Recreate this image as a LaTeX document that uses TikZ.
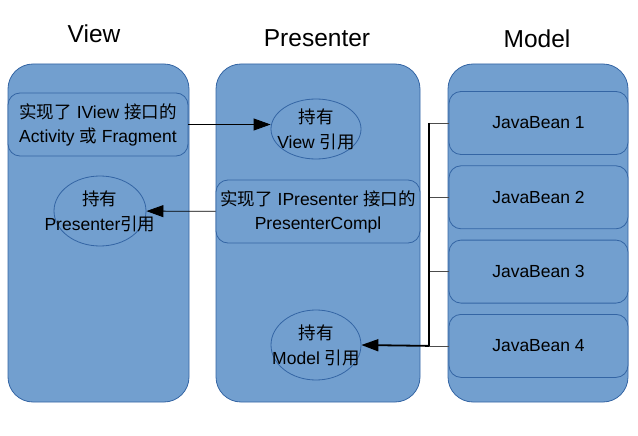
\documentclass[tikz,border=0pt]{standalone}
\usepackage{fontspec}
\setmainfont{Liberation Sans}
\newfontfamily\cjk{Noto Sans CJK SC}
\newcommand{\zh}[1]{{\cjk #1}}
\usetikzlibrary{arrows.meta,positioning,shapes.geometric}
\definecolor{mvpfill}{HTML}{729FCF}
\definecolor{mvpline}{HTML}{3465A4}
\tikzstyle{column}=[draw=mvpline,fill=mvpfill,rounded corners=25pt,minimum height=338pt,inner sep=0pt]
\tikzstyle{impl}=[draw=mvpline,fill=mvpfill,rounded corners=12pt,minimum height=63pt,inner sep=0pt,align=center,font=\fontsize{17.5}{24}\selectfont]
\tikzstyle{holder}=[draw=mvpline,fill=mvpfill,ellipse,inner sep=0pt]
\tikzstyle{holdtext}=[align=center,font=\fontsize{17.5}{25}\selectfont]
\tikzstyle{title}=[font=\fontsize{24.5}{28}\selectfont]
\tikzstyle{every edge}=[draw,>={Triangle[length=17pt,width=12pt]}]

\begin{document}
\begin{tikzpicture}[x=1pt,y=-1pt,line width=0.8pt]
  \useasboundingbox (0,0) rectangle (638,436);
  % columns
  \node[column,minimum width=181pt] (view) at (98.5,233) {};
  \node[column,minimum width=204pt] (presenter) at (318,233) {};
  \node[column,minimum width=180pt] (model) at (538,233) {};
  \node[title] (viewtitle) at (94,34) {View};
  \node[title] (prestitle) at (317,38.5) {Presenter};
  \node[title] (modeltitle) at (537,38.5) {Model};

  % view
  \node[impl,minimum width=180pt] (vimpl) at (98,124.5) {\zh{实现了} IView \zh{接口的}\\Activity \zh{或} Fragment};
  \node[holder,minimum width=92pt,minimum height=70pt] (vpres) at (100,211) {};
  \node[holdtext] (vprestext) at (vpres) {\zh{持有}\\Presenter\zh{引用}};

  % presenter
  \node[holder,minimum width=90pt,minimum height=60pt] (pview) at (316,129) {};
  \node[holdtext] (pviewtext) at (pview) {\zh{持有}\\View \zh{引用}};
  \node[impl,minimum width=204pt] (pimpl) at (318,211.5) {\zh{实现了} IPresenter \zh{接口的}\\PresenterCompl};
  \node[holder,minimum width=90pt,minimum height=70pt] (pmodel) at (316,345) {};
  \node[holdtext] (pmodeltext) at (pmodel) {\zh{持有}\\Model \zh{引用}};

  % model
  \node[impl,minimum width=179pt] (jb1) at (538.5,123) {JavaBean 1};
  \node[impl,minimum width=179pt] (jb2) [below=10.5pt of jb1] {JavaBean 2};
  \node[impl,minimum width=179pt] (jb3) [below=10.5pt of jb2] {JavaBean 3};
  \node[impl,minimum width=179pt] (jb4) [below=10.5pt of jb3] {JavaBean 4};
  \coordinate (bus) at (429,0);

  \path[->] (vimpl.east) edge (vimpl.east -| pview.west)
    (pimpl) edge (vpres);
  \draw[black!70] (jb1.west) -- (jb1.west -| bus)
    (jb2.west) -- (jb2.west -| bus)
    (jb3.west) -- (jb3.west -| bus)
    (jb4.west) -- (jb4.west -| bus);
  \draw[line width=1.4pt] (jb1.west -| bus) -- (jb4.west -| bus);
  \path[->,line width=1.8pt] (jb4.west -| bus) edge (pmodel.east);
\end{tikzpicture}
\end{document}
